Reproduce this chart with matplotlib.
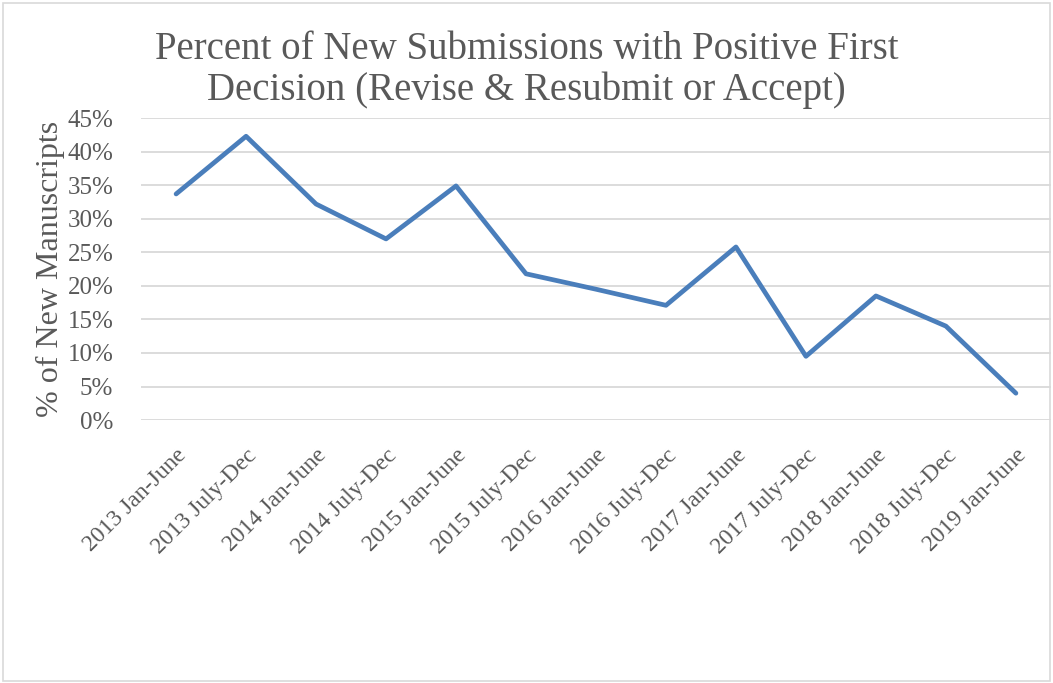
import matplotlib.pyplot as plt
from matplotlib.ticker import PercentFormatter
from matplotlib.patches import Rectangle

periods = ['2013 Jan-June', '2013 July-Dec', '2014 Jan-June', '2014 July-Dec',
           '2015 Jan-June', '2015 July-Dec', '2016 Jan-June', '2016 July-Dec',
           '2017 Jan-June', '2017 July-Dec', '2018 Jan-June', '2018 July-Dec',
           '2019 Jan-June']
positive_pct = [33.7, 42.3, 32.2, 27.0, 34.9, 21.8, 19.5, 17.1,
                25.8, 9.5, 18.5, 14.0, 4.0]

plt.rcParams['font.family'] = ['Liberation Serif', 'DejaVu Serif']
txt = '#595959'

fig = plt.figure(figsize=(10.53, 6.83), dpi=100)
fig.patches.append(Rectangle((0.003, 0.003), 0.994, 0.993, transform=fig.transFigure,
                             fill=False, edgecolor='#d9d9d9', lw=1.2))
ax = fig.add_axes([0.134, 0.385, 0.864, 0.442])

x = range(len(periods))
ax.plot(x, positive_pct, color='#4a7ebb', lw=3.4, solid_capstyle='round', zorder=3)

ax.set_xlim(-0.5, len(periods) - 0.5)
ax.set_ylim(0, 45)
ax.set_yticks(range(0, 46, 5))
ax.yaxis.set_major_formatter(PercentFormatter(decimals=0))
ax.grid(axis='y', color='#d9d9d9', lw=1.3)
ax.set_axisbelow(True)
for s in ax.spines.values():
    s.set_visible(False)
ax.tick_params(length=0, colors=txt, labelsize=18)
ax.tick_params(axis='y', pad=20)

ax.set_xticks(list(x))
ax.set_xticklabels(periods, rotation=45, ha='right', va='top', rotation_mode='anchor')
ax.tick_params(axis='x', pad=18, labelsize=17)

ax.set_ylabel('% of New Manuscripts', color=txt, fontsize=23, labelpad=2)
fig.text(0.5, 0.898, 'Percent of New Submissions with Positive First\nDecision (Revise & Resubmit or Accept)',
         ha='center', va='center', fontsize=28, color=txt, linespacing=1.13)

fig.savefig('out.png', dpi=100)
